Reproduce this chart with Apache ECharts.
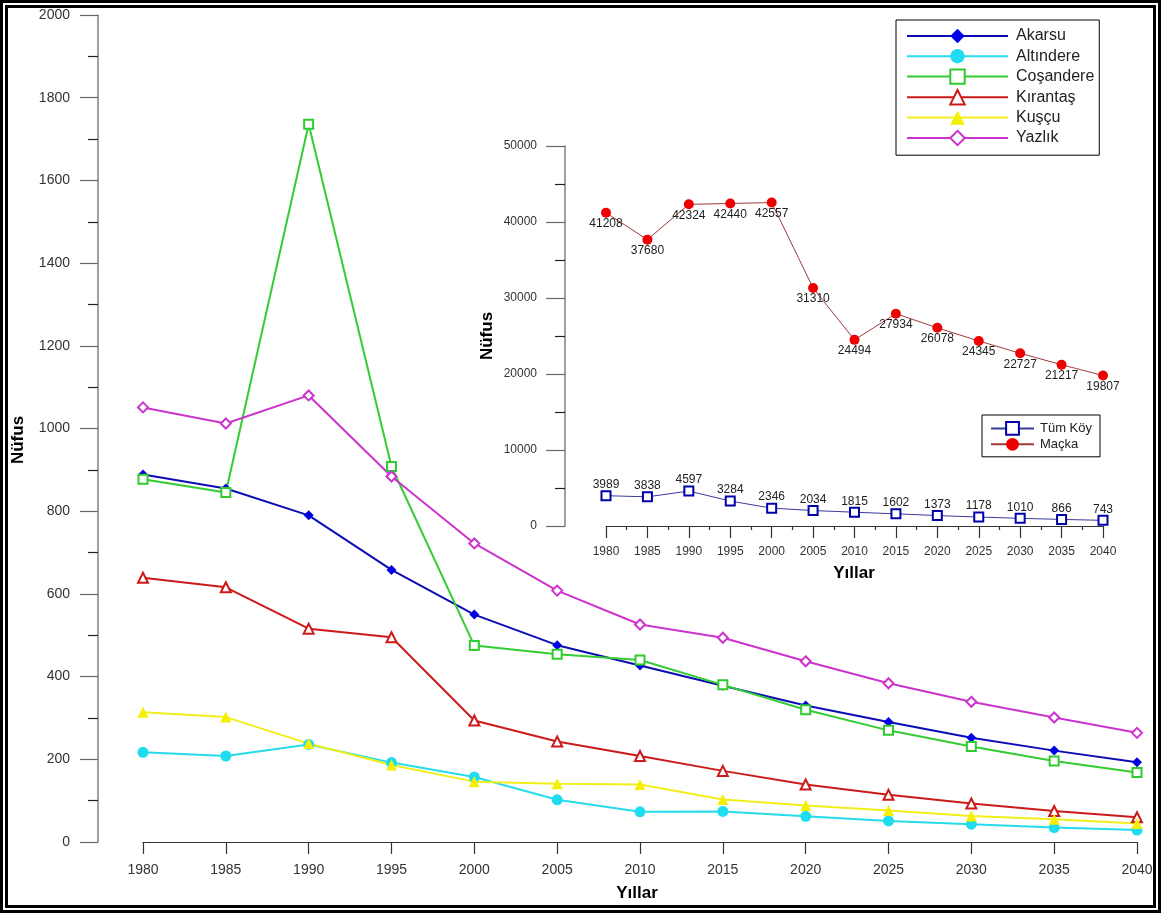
<!DOCTYPE html>
<html>
<head>
<meta charset="utf-8">
<script src="https://cdn.jsdelivr.net/npm/echarts@6/dist/echarts.min.js"></script>
<style>
  html, body { margin:0; padding:0; background:#fff; }
  #chart { position:absolute; left:0; top:0; width:1161px; height:913px; }
  .frame1 { position:absolute; left:0; top:0; width:1155px; height:907px; border:3px solid #000; pointer-events:none; }
  .frame2 { position:absolute; left:5px; top:5px; width:1145px; height:897px; border:3px solid #000; pointer-events:none; }
</style>
</head>
<body>
<div id="chart"></div>
<div class="frame1"></div>
<div class="frame2"></div>
<script>
// ---- data ----
const years = [1980, 1985, 1990, 1995, 2000, 2005, 2010, 2015, 2020, 2025, 2030, 2035, 2040];
const mainYTicks = { min: 0, max: 2000, step: 200 };
const insetYTicks = { min: 0, max: 50000, step: 10000 };

const akarsu    = [889, 855, 790, 658, 550, 476, 427, 378, 330, 290, 252, 221, 193];
const altindere = [217, 208, 236, 192, 157, 102, 73, 74, 62, 51, 43, 35, 29];
const cosandere = [877, 845, 1736, 908, 475, 454, 440, 380, 320, 270, 231, 196, 168];
const kirantas  = [639, 616, 516, 495, 294, 243, 208, 172, 139, 114, 93, 75, 60];
const kuscu     = [314, 302, 238, 186, 146, 141, 139, 103, 88, 76, 63, 55, 45];
const yazlik    = [1051, 1012, 1080, 884, 722, 608, 526, 494, 437, 384, 339, 301, 264];

const macka  = [41208, 37680, 42324, 42440, 42557, 31310, 24494, 27934, 26078, 24345, 22727, 21217, 19807];
const tumKoy = [3989, 3838, 4597, 3284, 2346, 2034, 1815, 1602, 1373, 1178, 1010, 866, 743];

const FONT = "'Liberation Sans', Arial, sans-serif";
const pairs = arr => years.map((y, i) => [y, arr[i]]);

function mainSeries(name, data, lineColor, symColor, symbol, size, bw) {
  return {
    name, type: 'line', xAxisIndex: 0, yAxisIndex: 0, data: pairs(data),
    symbol, symbolSize: size, showAllSymbol: true,
    lineStyle: { color: lineColor, width: 2 },
    itemStyle: { color: symColor, borderColor: symColor, borderWidth: bw },
    emphasis: { disabled: true }
  };
}

const chart = echarts.init(document.getElementById('chart'), null, { renderer: 'canvas' });

const valAxisX = (gridIndex, margin, minor) => ({
  type: 'value', gridIndex, min: years[0], max: years[years.length - 1], interval: 5,
  axisLine: { show: true, onZero: false, lineStyle: { color: '#333', width: 1.2 } },
  axisTick: { show: true, length: 12, lineStyle: { color: '#333', width: 1.2 } },
  minorTick: minor ? { show: true, splitNumber: 2, length: 4, lineStyle: { color: '#333', width: 1.2 } } : { show: false },
  splitLine: { show: false },
  axisLabel: { margin, color: '#333', fontFamily: FONT, fontSize: gridIndex === 0 ? 14 : 12, formatter: v => String(v) }
});

const valAxisY = (gridIndex, ticks, offset, fs, tl) => ({
  type: 'value', gridIndex, min: ticks.min, max: ticks.max, interval: ticks.step, offset,
  axisLine: { show: true, lineStyle: { color: '#808080', width: 1.5 } },
  axisTick: { show: true, length: tl, lineStyle: { color: '#666', width: 1.2 } },
  minorTick: { show: true, splitNumber: 2, length: 10, lineStyle: { color: '#222', width: 1.2 } },
  splitLine: { show: false },
  axisLabel: { margin: 28, color: '#333', fontFamily: FONT, fontSize: fs, formatter: v => String(v) }
});

const option = {
  animation: false,
  backgroundColor: '#fff',
  grid: [
    { left: 143, right: 24, top: 15, bottom: 71 },
    { left: 606, right: 58, top: 146, bottom: 387 }
  ],
  xAxis: [ valAxisX(0, 21, false), valAxisX(1, 20, true) ],
  yAxis: [ valAxisY(0, mainYTicks, 45, 14, 18), valAxisY(1, insetYTicks, 41, 12, 19) ],
  legend: [
    {
      data: ['Akarsu', 'Altındere', 'Coşandere', 'Kırantaş', 'Kuşçu', 'Yazlık'],
      orient: 'vertical', left: 896, top: 20,
      padding: [8, 5, 9, 10], itemWidth: 101, itemHeight: 18, itemGap: 4.2,
      backgroundColor: '#fff', borderColor: '#000', borderWidth: 1,
      textStyle: { fontFamily: FONT, fontSize: 16, color: '#222', padding: [0, 0, 0, 3] },
      selectedMode: false
    },
    {
      data: ['Tüm Köy', 'Maçka'],
      orient: 'vertical', left: 982, top: 415,
      padding: [6, 8, 6, 8], itemWidth: 43, itemHeight: 16, itemGap: 2,
      backgroundColor: '#fff', borderColor: '#000', borderWidth: 1,
      textStyle: { fontFamily: FONT, fontSize: 13, color: '#222', padding: [0, 0, 0, 1] },
      selectedMode: false
    }
  ],
  graphic: [
    { type: 'text', x: 18, y: 440, rotation: Math.PI / 2,
      style: { text: 'Nüfus', font: 'bold 17px ' + FONT, fill: '#000', align: 'center', verticalAlign: 'middle' } },
    { type: 'text', x: 637, y: 893,
      style: { text: 'Yıllar', font: 'bold 17px ' + FONT, fill: '#000', align: 'center', verticalAlign: 'middle' } },
    { type: 'text', x: 487, y: 336, rotation: Math.PI / 2,
      style: { text: 'Nüfus', font: 'bold 17px ' + FONT, fill: '#000', align: 'center', verticalAlign: 'middle' } },
    { type: 'text', x: 854, y: 573,
      style: { text: 'Yıllar', font: 'bold 17px ' + FONT, fill: '#000', align: 'center', verticalAlign: 'middle' } }
  ],
  series: [
    mainSeries('Akarsu', akarsu, '#0c0cb4', '#0000e6', 'diamond', 10, 0),
    mainSeries('Altındere', altindere, '#26dcec', '#1fdcee', 'circle', 11, 0),
    mainSeries('Coşandere', cosandere, '#33cc33', '#2ecc2e', 'emptyRect', 9, 1.5),
    mainSeries('Kırantaş', kirantas, '#cc1a1a', '#cc1a1a', 'emptyTriangle', 10, 1.5),
    mainSeries('Kuşçu', kuscu, '#f2ee1a', '#f5f000', 'triangle', 11, 0),
    mainSeries('Yazlık', yazlik, '#cc33cc', '#cc33cc', 'emptyDiamond', 10, 1.5),
    {
      name: 'Tüm Köy', type: 'line', xAxisIndex: 1, yAxisIndex: 1, data: pairs(tumKoy),
      symbol: 'emptyRect', symbolSize: 9, showAllSymbol: true,
      lineStyle: { color: '#3a3a9a', width: 1 },
      itemStyle: { color: '#0000aa', borderColor: '#0000aa', borderWidth: 2 },
      label: { show: true, position: 'inside', offset: [0, -11], color: '#222', fontFamily: FONT, fontSize: 12 },
      emphasis: { disabled: true }
    },
    {
      name: 'Maçka', type: 'line', xAxisIndex: 1, yAxisIndex: 1, data: pairs(macka),
      symbol: 'circle', symbolSize: 10, showAllSymbol: true,
      lineStyle: { color: '#a03a3a', width: 1 },
      itemStyle: { color: '#ee0000' },
      label: { show: true, position: 'inside', offset: [0, 11], color: '#222', fontFamily: FONT, fontSize: 12 },
      emphasis: { disabled: true }
    }
  ]
};
chart.setOption(option);
</script>
</body>
</html>
